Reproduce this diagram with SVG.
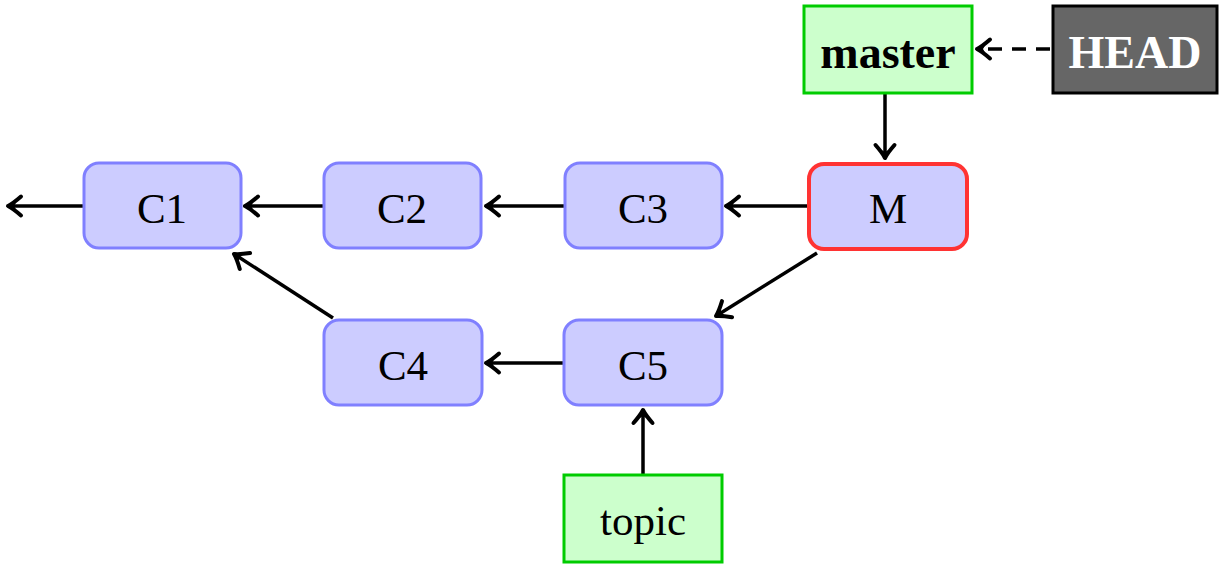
<svg xmlns="http://www.w3.org/2000/svg" width="1225" height="565" viewBox="0 0 1225 565">
<defs>
<marker id="arr" viewBox="-16 -12 18 24" refX="0" refY="0" markerWidth="18" markerHeight="24" markerUnits="userSpaceOnUse" orient="auto" overflow="visible">
<path d="M-13,-9.5 Q-5,-2.5 0,0 Q-5,2.5 -13,9.5" fill="none" stroke="#000" stroke-width="4" stroke-linecap="round" stroke-linejoin="round"/>
<path d="M0.5,0 L-8,-3.5 L-6,0 L-8,3.5 Z" fill="#000"/>
</marker>
<style>
.commit{fill:#ccccff;stroke:#8080ff;stroke-width:3}
.merge{fill:#ccccff;stroke:#ff3333;stroke-width:4}
.branch{fill:#ccffcc;stroke:#00cc00;stroke-width:3}
.head{fill:#666666;stroke:#000;stroke-width:3}
.t{font-family:"Liberation Serif","Times New Roman",serif;font-size:43px;text-anchor:middle;fill:#000}
.b{font-weight:bold;font-size:46px}
.w{fill:#fff}
.c{fill:none;stroke:#000;stroke-width:3.5;marker-end:url(#arr)}
.d{stroke-dasharray:14,10}
</style>
</defs>
<g id="connectors">
<line class="c" x1="83" y1="206" x2="8" y2="206"/>
<line class="c" x1="323" y1="206" x2="245" y2="206"/>
<line class="c" x1="564" y1="206" x2="486" y2="206"/>
<line class="c" x1="807" y1="206" x2="726" y2="206"/>
<line class="c" x1="817" y1="253" x2="716" y2="316"/>
<line class="c" x1="333" y1="318" x2="234" y2="254"/>
<line class="c" x1="563" y1="363" x2="486" y2="363"/>
<line class="c" x1="643" y1="474" x2="643" y2="410"/>
<line class="c" x1="885" y1="94" x2="885" y2="158"/>
<line class="c d" x1="1050" y1="49" x2="977" y2="49"/>
</g>
<g id="C1"><rect class="commit" x="84" y="163" width="157" height="85" rx="15"/><text class="t" x="162" y="223">C1</text></g>
<g id="C2"><rect class="commit" x="324" y="163" width="157" height="85" rx="15"/><text class="t" x="402" y="223">C2</text></g>
<g id="C3"><rect class="commit" x="565" y="163" width="157" height="85" rx="15"/><text class="t" x="643" y="223">C3</text></g>
<g id="M"><rect class="merge" x="809" y="164" width="158" height="85" rx="15"/><text class="t" x="888" y="223">M</text></g>
<g id="C4"><rect class="commit" x="324" y="320" width="158" height="85" rx="15"/><text class="t" x="403" y="380">C4</text></g>
<g id="C5"><rect class="commit" x="564" y="320" width="158" height="85" rx="15"/><text class="t" x="643" y="380">C5</text></g>
<g id="topic"><rect class="branch" x="564" y="475" width="158" height="87"/><text class="t" x="643" y="535">topic</text></g>
<g id="master"><rect class="branch" x="804" y="6" width="168" height="87"/><text class="t b" x="888" y="68">master</text></g>
<g id="HEAD"><rect class="head" x="1053" y="6" width="164" height="87"/><text class="t b w" x="1135" y="68">HEAD</text></g>
</svg>
